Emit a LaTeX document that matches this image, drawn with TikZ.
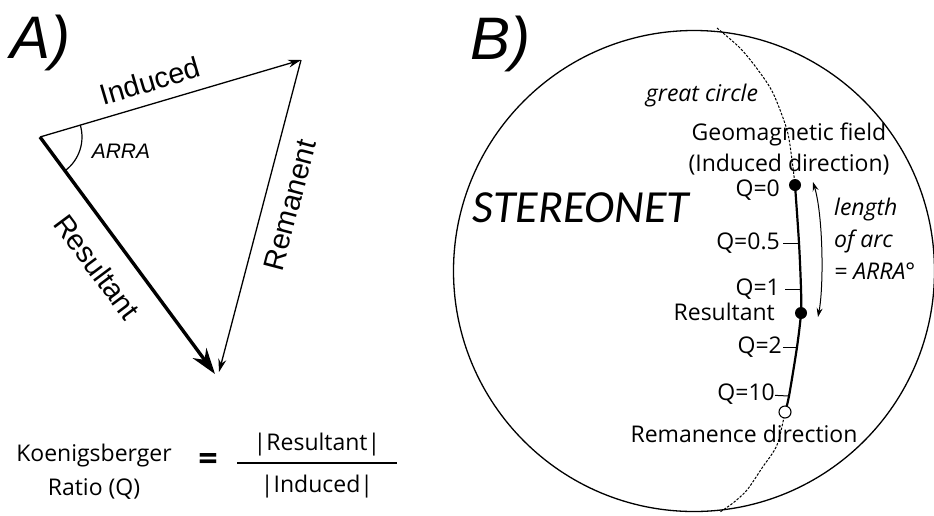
\documentclass[tikz,border=0pt]{standalone}
\usepackage{fontspec}
\setmainfont{Liberation Sans}
\newfontfamily\labelfont{Open Sans}
\newfontfamily\netfont{Carlito}
\usepackage{tikz}
\usetikzlibrary{arrows.meta, calc}

\begin{document}
\begin{tikzpicture}[
    x=1pt, y=-1pt,
    vec/.style={-{Stealth[length=13pt, width=8pt]}, line width=1.3pt},
    bigvec/.style={-{Stealth[length=26pt, width=17pt]}, line width=3.4pt},
    lblA/.style={font=\fontsize{29}{31}\selectfont, inner sep=0pt},
    lblB/.style={font=\labelfont\fontsize{23}{31}\selectfont, inner sep=0pt},
    panel/.style={font=\itshape\fontsize{60}{62}\selectfont, inner sep=0pt},
    dot/.style={circle, fill, inner sep=0pt, minimum size=12pt},
    gc/.style={dash pattern=on 2.5pt off 1.5pt, line width=1pt},
    tick/.style={line width=1pt}
]
    \useasboundingbox (0,0) rectangle (934,515);

    % A) vector triangle
    \node[panel] (pa) at (40,43) {A)};
    \coordinate (O) at (40,137);
    \coordinate (I) at (301,60);
    \coordinate (restip) at (215,374);
    \coordinate (remtip) at (219,372);

    \draw[vec] (O) -- (I);
    \draw[vec] (I) -- (remtip);
    \draw[bigvec] (O) -- (restip);
    \draw[line width=1.2pt] (O) ++(-16.5:42) arc[start angle=-16.5, end angle=53.3, radius=42];

    \node[lblA, rotate=16.5] (indlbl) at (150,81) {Induced};
    \node[lblA, rotate=-53.3] (reslbl) at (97,267) {Resultant};
    \node[lblA, rotate=75.3] (remlbl) at (290,205) {Remanent};
    \node[lblA, font=\itshape\fontsize{21}{23}\selectfont] (arra) at (121,151) {ARRA};

    % Koenigsberger ratio
    \node[lblB, align=center, font=\labelfont\fontsize{23}{34}\selectfont] (kq) at (94,472) {Koenigsberger\\Ratio (Q)};
    \node[font=\labelfont\bfseries\fontsize{34}{36}\selectfont, inner sep=0pt] (eq) at (208,462) {=};
    \node[lblB] (num) at (317,445) {|Resultant|};
    \node[lblB] (den) at (317,487) {|Induced|};
    \coordinate (barL) at (237,463);
    \coordinate (barR) at (397,463);
    \draw[line width=1.2pt] (barL) -- (barR);

    % B) stereonet
    \node[panel] (pb) at (500,44) {B)};
    \node[circle, draw, line width=1.3pt, minimum size=481pt, inner sep=0pt] (net) at (694,271) {};
    \node[font=\netfont\itshape\fontsize{46}{48}\selectfont, inner sep=0pt] (stereo) at (581,208) {STEREONET};

    \coordinate (q0) at (795,185);
    \coordinate (q05) at (799,243);
    \coordinate (q1) at (801,289);
    \coordinate (res) at (801,313);
    \coordinate (q2) at (797,347);
    \coordinate (q10) at (789,396);
    \coordinate (rem) at (785,412);

    \draw[gc] plot[smooth] coordinates {(717,28) (740,48) (758,70) (773,93) (787,130) (792,160) (q0)};
    \draw[gc] plot[smooth] coordinates {(rem) (777,445) (762,468) (747,490) (733,503) (720,512)};
    \draw[line width=2.2pt] plot[smooth] coordinates {(q0) (q05) (q1) (res) (q2) (q10) (rem)};

    \node[dot] (q0dot) at (q0) {};
    \node[dot] (resdot) at (res) {};
    \node[circle, draw, line width=1.1pt, fill=white, inner sep=0pt, minimum size=12pt] (remdot) at (rem) {};

    \node[lblB, font=\labelfont\itshape\fontsize{23}{31}\selectfont] (gclbl) at (702,96) {great circle};
    \node[lblB, align=center] (geo) at (789,149) {Geomagnetic field\\(Induced direction)};
    \node[lblB, anchor=east] (lq0) at (780,190) {Q=0};
    \node[lblB, anchor=east] (lq05) at (780,243) {Q=0.5};
    \node[lblB, anchor=east] (lq1) at (780,289) {Q=1};
    \node[lblB, anchor=east] (lres) at (775,312) {Resultant};
    \node[lblB, anchor=east] (lq2) at (782,347) {Q=2};
    \node[lblB, anchor=east] (lq10) at (775,394) {Q=10};
    \node[lblB] (lrem) at (744,434) {Remanence direction};

    \draw[tick, shorten <=3pt] (lq05) -- (q05);
    \draw[tick, shorten <=5pt] (lq1) -- (q1);
    \draw[tick, shorten <=1pt] (lq2) -- (q2);
    \draw[tick] (lq10) -- (q10);

    \coordinate (atop) at (813,182);
    \coordinate (abot) at (818,317);
    \draw[{Stealth[length=9pt, width=6pt]}-{Stealth[length=9pt, width=6pt]}, line width=1pt]
        (atop) .. controls (823,215) and (824,285) .. (abot);
    \node[lblB, align=left, anchor=north west, font=\labelfont\itshape\fontsize{23}{32}\selectfont] (arclen) at (834,198) {length\\of arc\\= ARRA°};
\end{tikzpicture}
\end{document}
